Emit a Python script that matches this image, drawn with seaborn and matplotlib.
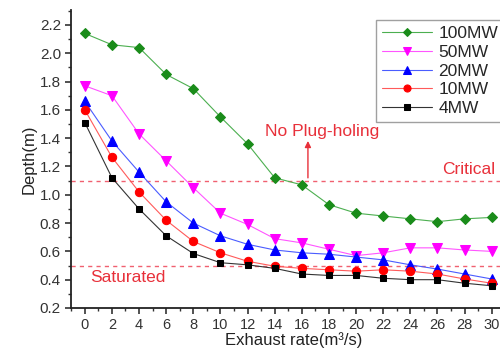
import numpy as np
import pandas as pd
import seaborn as sns
import matplotlib.pyplot as plt
from matplotlib.ticker import MultipleLocator

exhaust_rate = [0, 2, 4, 6, 8, 10, 12, 14, 16, 18, 20, 22, 24, 26, 28, 30]
depth_100mw = [2.14, 2.06, 2.04, 1.85, 1.75, 1.55, 1.36, 1.12, 1.07, 0.93, 0.87, 0.85, 0.83, 0.81, 0.83, 0.84]
depth_50mw = [1.77, 1.70, 1.43, 1.24, 1.05, 0.87, 0.79, 0.69, 0.66, 0.615, 0.57, 0.59, 0.625, 0.625, 0.61, 0.60]
depth_20mw = [1.66, 1.38, 1.16, 0.95, 0.80, 0.71, 0.65, 0.61, 0.59, 0.58, 0.56, 0.54, 0.505, 0.475, 0.44, 0.405]
depth_10mw = [1.60, 1.265, 1.02, 0.82, 0.67, 0.59, 0.53, 0.495, 0.48, 0.47, 0.46, 0.47, 0.46, 0.44, 0.405, 0.375]
depth_4mw = [1.51, 1.12, 0.90, 0.71, 0.585, 0.52, 0.505, 0.48, 0.44, 0.43, 0.43, 0.41, 0.40, 0.40, 0.375, 0.357]
series_names = ["100MW", "50MW", "20MW", "10MW", "4MW"]

critical_depth = 1.10
saturated_depth = 0.50

rows = []
for name, vals in zip(series_names, [depth_100mw, depth_50mw, depth_20mw, depth_10mw, depth_4mw]):
    for x, y in zip(exhaust_rate, vals):
        rows.append({"rate": x, "depth": y, "power": name})
df = pd.DataFrame(rows)

sns.set_theme(style="white")
plt.rcParams["font.family"] = ["Liberation Sans", "DejaVu Sans"]

fig = plt.figure(figsize=(5.0, 3.49), dpi=100)
ax = fig.add_axes([0.1414, 0.1175, 0.8586, 0.854])

line_colors = {"100MW": "#4caf50", "50MW": "#ff55ff", "20MW": "#4a5cff", "10MW": "#ff5a5a", "4MW": "#333333"}
marker_colors = {"100MW": "#1a8c1a", "50MW": "#ff00ff", "20MW": "#0000ff", "10MW": "#ff0000", "4MW": "#000000"}
markers = {"100MW": "D", "50MW": "v", "20MW": "^", "10MW": "o", "4MW": "s"}
msizes = {"100MW": 5, "50MW": 6.5, "20MW": 6.5, "10MW": 6, "4MW": 5}

for name in series_names:
    sub = df[df["power"] == name]
    sns.lineplot(data=sub, x="rate", y="depth", ax=ax, color=line_colors[name],
                 linewidth=0.8, marker=markers[name], markersize=msizes[name],
                 markerfacecolor=marker_colors[name], markeredgecolor=marker_colors[name],
                 label=name)

dash_color = "#f06070"
ax.axhline(critical_depth, color=dash_color, linestyle=(0, (3, 3)), linewidth=1.0, zorder=1)
ax.axhline(saturated_depth, color=dash_color, linestyle=(0, (3, 3)), linewidth=1.0, zorder=1)

text_color = "#e8303a"
ax.text(30.25, 1.18, "Critical", color=text_color, fontsize=12.5, ha="right", va="center")
ax.text(0.4, 0.415, "Saturated", color=text_color, fontsize=12.5, ha="left", va="center")
ax.text(17.5, 1.45, "No Plug-holing", color=text_color, fontsize=12.5, ha="center", va="center")
ax.annotate("", xy=(16.45, 1.40), xytext=(16.45, critical_depth),
            arrowprops=dict(arrowstyle="-|>", color=text_color, lw=1.0, mutation_scale=9))

ax.set_xlim(-1.04, 30.61)
ax.set_ylim(0.2, 2.306)
ax.xaxis.set_major_locator(MultipleLocator(2))
ax.xaxis.set_minor_locator(MultipleLocator(1))
ax.yaxis.set_major_locator(MultipleLocator(0.2))
ax.yaxis.set_minor_locator(MultipleLocator(0.1))
ax.yaxis.set_major_formatter(plt.FuncFormatter(lambda v, p: f"{v:.1f}"))
ax.tick_params(axis="both", which="major", direction="out", length=4, width=1.2,
               labelsize=11, colors="#333333", left=True, bottom=True, pad=3)
ax.tick_params(axis="x", which="major", labelsize=10.5, pad=3)
ax.tick_params(axis="both", which="minor", direction="out", length=2.5, width=1.0,
               left=True, bottom=True, colors="#333333")
for side in ["top", "right"]:
    ax.spines[side].set_visible(False)
for side in ["left", "bottom"]:
    ax.spines[side].set_color("#222222")
    ax.spines[side].set_linewidth(1.3)

ax.set_xlabel("Exhaust rate(m³/s)", fontsize=12, color="#222222")
ax.xaxis.set_label_coords(0.52, -0.135)
ax.xaxis.label.set_va("bottom")
ax.set_ylabel("Depth(m)", fontsize=12, color="#222222", labelpad=2)

leg = ax.legend(loc="upper right", bbox_to_anchor=(1.03, 0.995), fontsize=12.5,
                frameon=True, fancybox=False, handlelength=2.9, handletextpad=0.35,
                borderpad=0.35, labelspacing=0.2, markerscale=0.85)
leg.get_frame().set_edgecolor("#888888")
leg.get_frame().set_linewidth(1.0)

fig.savefig("out.png", dpi=100)
